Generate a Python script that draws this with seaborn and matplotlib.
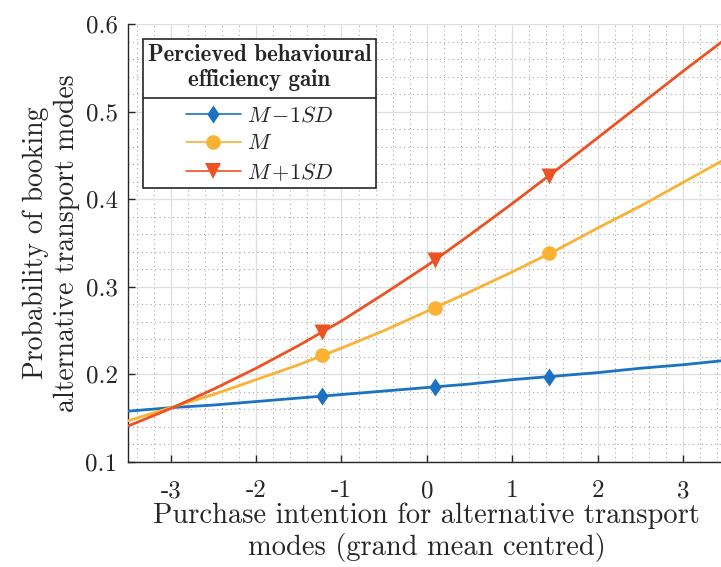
import numpy as np
import pandas as pd
import matplotlib
matplotlib.use("Agg")
import matplotlib.pyplot as plt
from matplotlib.lines import Line2D
from matplotlib.path import Path
from matplotlib.ticker import MultipleLocator
import seaborn as sns

# Predicted probability curves over purchase intention (grand mean centred)
curve_x = [-3.5, -3.0, -2.5, -2.0, -1.5, -1.0, -0.5, 0.0, 0.5, 1.0, 1.5, 2.0, 2.5, 3.0, 3.5]
low_curve = [0.158, 0.162, 0.165, 0.169, 0.173, 0.177, 0.181, 0.185, 0.189, 0.194, 0.198, 0.202, 0.207, 0.211, 0.216]
mid_curve = [0.147, 0.162, 0.177, 0.194, 0.211, 0.230, 0.250, 0.272, 0.294, 0.317, 0.341, 0.367, 0.392, 0.419, 0.446]
high_curve = [0.141, 0.161, 0.183, 0.207, 0.233, 0.261, 0.292, 0.324, 0.359, 0.395, 0.432, 0.470, 0.508, 0.546, 0.583]

# Probabilities at M-1SD, M, M+1SD of purchase intention
point_x = [-1.23, 0.10, 1.43]
low_points = [0.175, 0.186, 0.197]
mid_points = [0.222, 0.276, 0.339]
high_points = [0.248, 0.331, 0.426]

series_labels = [r"$M\,{-}1SD$", r"$M$", r"$M\,{+}1SD$"]
legend_title = "Percieved behavioural\nefficiency gain"
x_ticks = [-3, -2, -1, 0, 1, 2, 3]
x_tick_labels = ["-3", "-2", "-1", "0", "1", "2", "3"]
y_ticks = [0.1, 0.2, 0.3, 0.4, 0.5, 0.6]
y_tick_labels = ["0.1", "0.2", "0.3", "0.4", "0.5", "0.6"]

sns.set_theme(style="white")
plt.rcParams["font.family"] = ["serif"]
plt.rcParams["font.serif"] = ["cmr10", "DejaVu Serif"]
plt.rcParams["mathtext.fontset"] = "cm"
plt.rcParams["axes.unicode_minus"] = False

colors = ["#1B72C2", "#F9B233", "#EC5222"]
diamond = Path([(0, 1), (0.68, 0), (0, -1), (-0.68, 0), (0, 1)],
               [Path.MOVETO, Path.LINETO, Path.LINETO, Path.LINETO, Path.CLOSEPOLY])
markers = [diamond, "o", "v"]
msizes = [13, 10.5, 11.5]

curves = pd.DataFrame({
    "x": curve_x * 3,
    "p": low_curve + mid_curve + high_curve,
    "group": [series_labels[0]] * len(curve_x) + [series_labels[1]] * len(curve_x)
             + [series_labels[2]] * len(curve_x),
})
points = pd.DataFrame({
    "x": point_x * 3,
    "p": low_points + mid_points + high_points,
    "group": [series_labels[0]] * 3 + [series_labels[1]] * 3 + [series_labels[2]] * 3,
})

fig = plt.figure(figsize=(7.21, 5.67), dpi=100)
ax = fig.add_axes([0.1775, 0.1852, 0.829, 0.7725])

for i, lab in enumerate(series_labels):
    sub = curves[curves["group"] == lab]
    sns.lineplot(data=sub, x="x", y="p", ax=ax, color=colors[i], linewidth=2.0,
                 legend=False, zorder=3)
for i, lab in enumerate(series_labels):
    sub = points[points["group"] == lab]
    sns.scatterplot(data=sub, x="x", y="p", ax=ax, color=colors[i], marker=markers[i],
                    s=msizes[i] ** 2, linewidth=0, legend=False, zorder=4)

ax.set_xlim(-3.5, 3.5)
ax.set_ylim(0.1, 0.6)
ax.set_xticks(x_ticks)
ax.set_xticklabels(x_tick_labels)
ax.set_yticks(y_ticks)
ax.set_yticklabels(y_tick_labels)
ax.xaxis.set_minor_locator(MultipleLocator(0.2))
ax.yaxis.set_minor_locator(MultipleLocator(0.02))
ax.grid(which="major", color="#dcdfe0", linewidth=0.9, linestyle="-", zorder=0)
ax.grid(which="minor", color="#a8a8a8", linewidth=0.8, linestyle=(0, (1, 3)), zorder=0)
ax.set_axisbelow(True)
for side in ["top", "right"]:
    ax.spines[side].set_visible(False)
for side in ["left", "bottom"]:
    ax.spines[side].set_color("#262626")
    ax.spines[side].set_linewidth(1.0)
ax.tick_params(axis="both", which="major", direction="in", length=5, width=1.0,
               color="#262626", labelsize=18, labelcolor="#262626",
               left=True, bottom=True)
ax.tick_params(axis="x", which="major", pad=13)
ax.tick_params(axis="y", which="major", pad=7.5)
ax.tick_params(axis="both", which="minor", length=0)

ax.set_xlabel("Purchase intention for alternative transport\nmodes (grand mean centred)",
              fontsize=20.5, color="#262626", labelpad=0, linespacing=1.2)
ax.set_ylabel("Probability of booking\nalternative transport modes",
              fontsize=20, color="#262626", labelpad=4, linespacing=1.22)

handles = [Line2D([0], [0], color=colors[i], linewidth=1.2, marker=markers[i],
                  markersize=msizes[i], markeredgewidth=0) for i in range(3)]
leg = ax.legend(handles, series_labels, loc="upper left", bbox_to_anchor=(0.025, 0.966),
                borderaxespad=0, fontsize=16, title=legend_title,
                title_fontproperties={"family": "cmb10", "size": 16.5},
                frameon=True, fancybox=False, framealpha=1, edgecolor="#262626",
                handlelength=2.5, handletextpad=0.27, labelspacing=0.36,
                borderpad=0.22, alignment="center")
leg.get_title().set_multialignment("center")
leg.get_title().set_linespacing(1.17)
leg.get_frame().set_linewidth(1.2)
leg.set_zorder(10)
leg._legend_box.sep = 11

# separator line between legend title and entries
fig.canvas.draw()
renderer = fig.canvas.get_renderer()
fb = leg.get_frame().get_window_extent(renderer)
tb = leg.get_title().get_window_extent(renderer)
hb = leg._legend_handle_box.get_window_extent(renderer)
inv = fig.transFigure.inverted()
y_sep = 0.5 * (tb.y0 + hb.y1)
(x0, ys), (x1, _) = inv.transform([(fb.x0, y_sep), (fb.x1, y_sep)])
fig.add_artist(Line2D([x0, x1], [ys, ys], color="#262626", linewidth=1.2, zorder=11))

fig.savefig("out.png", dpi=100)
